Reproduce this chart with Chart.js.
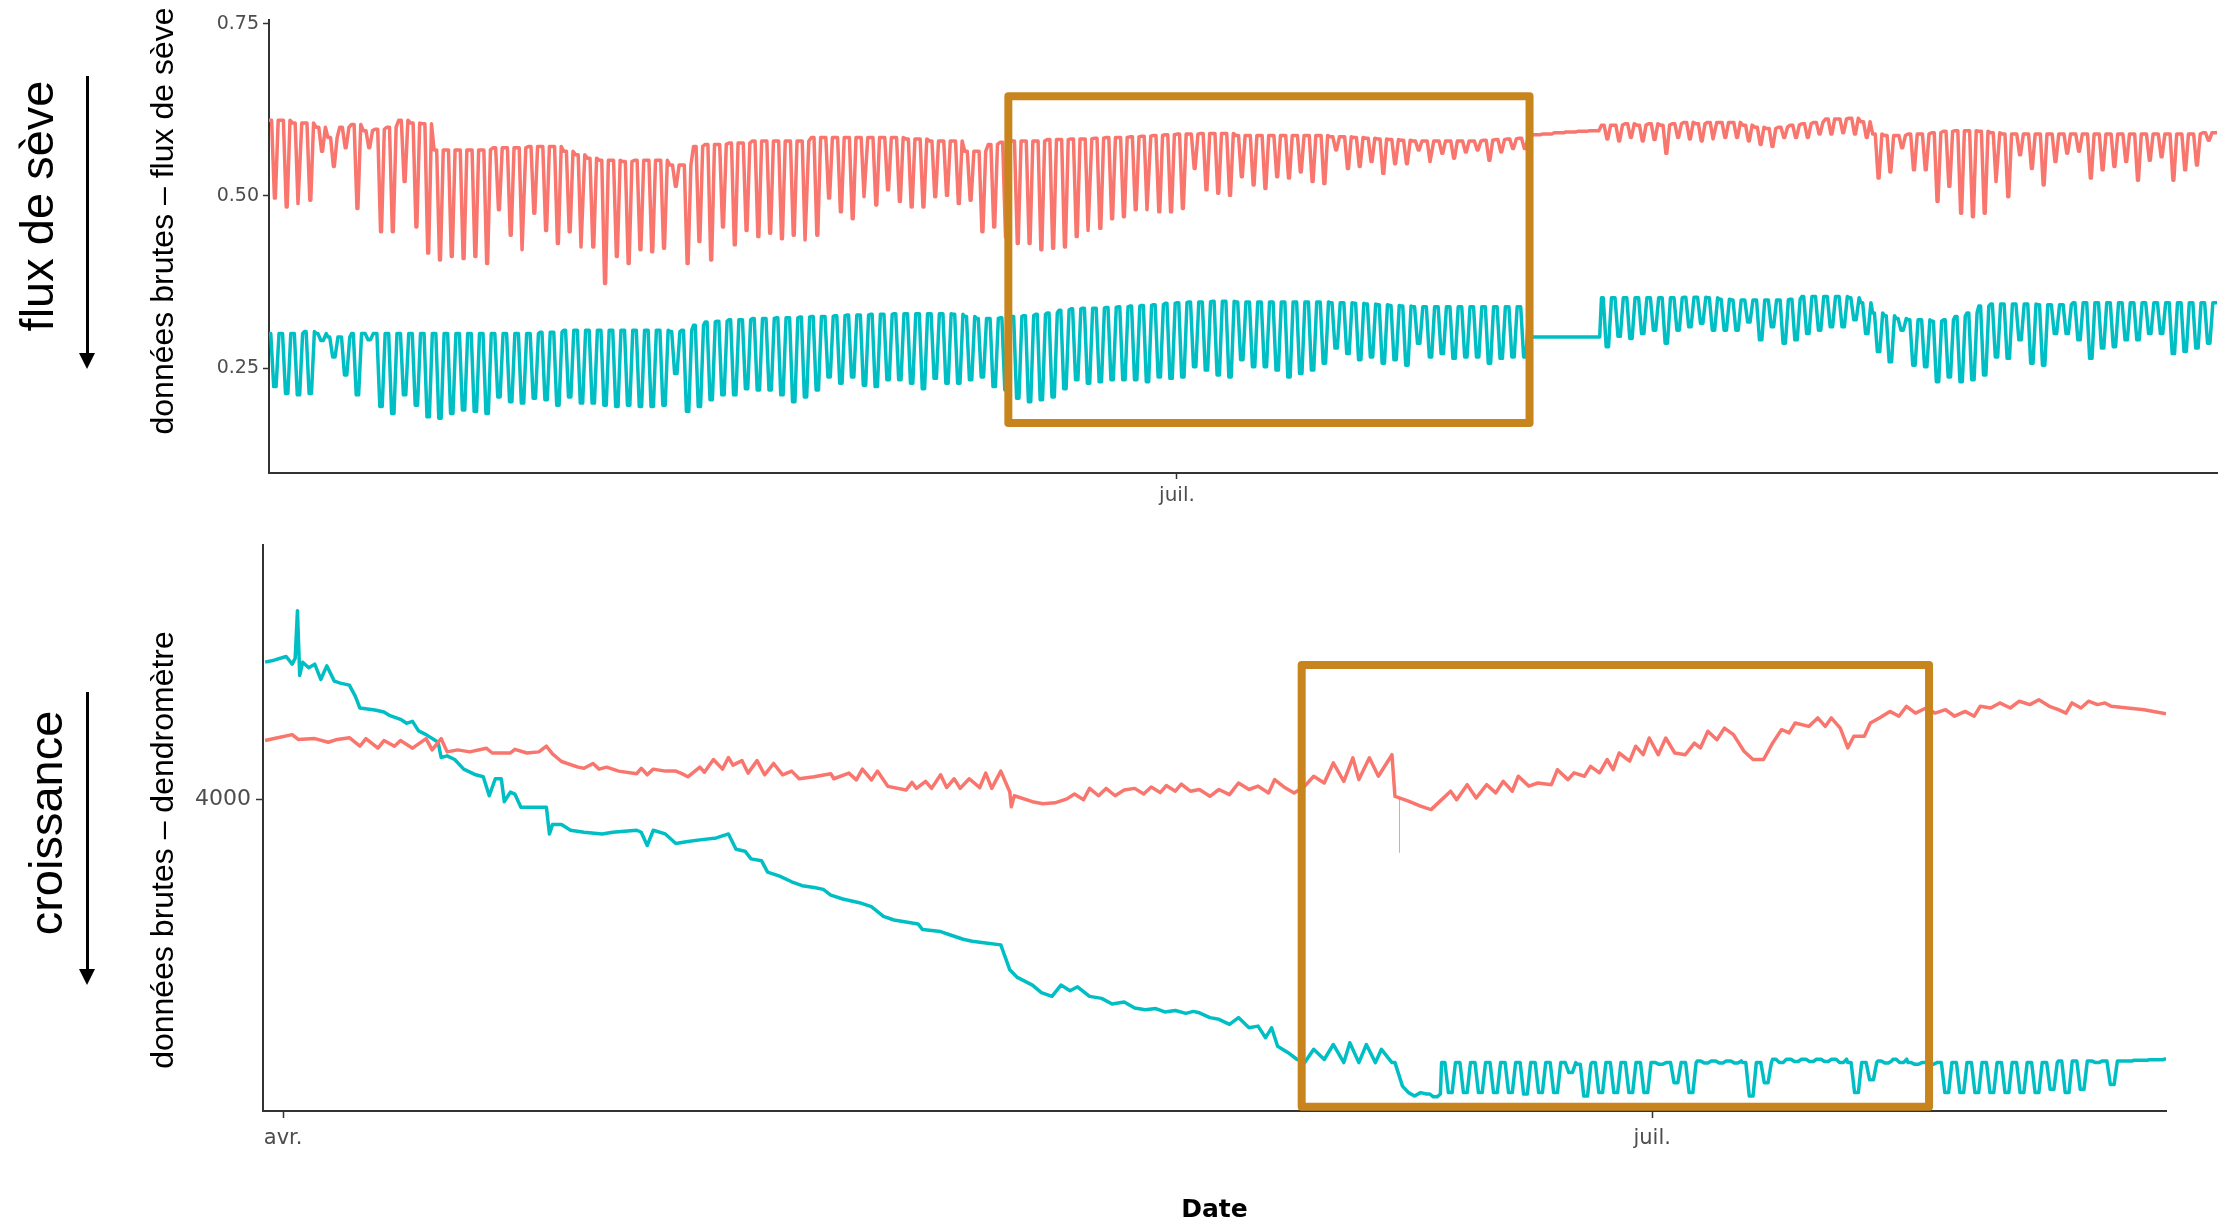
<!DOCTYPE html>
<html>
<head>
<meta charset="utf-8">
<script src="https://cdn.jsdelivr.net/npm/chart.js@4.4.1/dist/chart.umd.min.js"></script>
<style>
  body { margin: 0; background: #fff; width: 2220px; height: 1226px; overflow: hidden; position: relative; font-family: "Liberation Sans", Arial, sans-serif; }
  #sapChart { position: absolute; left: 0; top: 0; }
  #dendroChart { position: absolute; left: 0; top: 520px; }
  .vlab { position: absolute; white-space: nowrap; line-height: 1; color: #000; transform: translate(-50%, -50%) rotate(-90deg); }
  .big { font-size: 47px; }
  .small { font-size: 32px; }
  .arrow { position: absolute; width: 3px; background: #000; }
  .arrow::after { content: ""; position: absolute; left: -7px; top: 100%; border-left: 8.5px solid transparent; border-right: 8.5px solid transparent; border-top: 16px solid #000; }
</style>
</head>
<body>
<canvas id="sapChart" width="2220" height="520"></canvas>
<canvas id="dendroChart" width="2220" height="706"></canvas>

<div class="vlab big" style="left:36px;top:206px">flux de sève</div>
<div class="arrow" style="left:86px;top:76px;height:277px"></div>
<div class="vlab small" style="left:162px;top:221px">données brutes – flux de sève</div>

<div class="vlab big" style="left:45px;top:823px">croissance</div>
<div class="arrow" style="left:86px;top:692px;height:277px"></div>
<div class="vlab small" style="left:162px;top:850px">données brutes – dendromètre</div>

<script>
// ---- top panel: sap flow, one high/low pair per day (day of year, 0 = 1 Jan)
const sapStartDay = 104;
const sapRange = [104, 269.2];
const sapYRange = [0.0974, 0.7558];
const sapYTicks = [0.25, 0.50, 0.75];
const sapXTicks = [181];
const sapXLabels = ['juil.'];

const sapRedHi = [
  0.610,0.610,0.606,0.606,0.600,0.585,0.600,0.604,0.595,0.597,
  0.600,0.610,0.606,0.605,0.567,0.567,0.567,0.567,0.567,0.570,
  0.570,0.570,0.572,0.572,0.572,0.565,0.560,0.555,0.552,0.552,
  0.550,0.552,0.552,0.552,0.545,0.545,0.572,0.575,0.575,0.577,
  0.577,0.580,0.580,0.580,0.580,0.580,0.585,0.585,0.585,0.585,
  0.585,0.585,0.585,0.585,0.583,0.583,0.580,0.580,0.580,0.565,
  0.565,0.575,0.578,0.580,0.580,0.580,0.582,0.582,0.583,0.583,
  0.584,0.585,0.585,0.586,0.587,0.588,0.589,0.590,0.590,0.591,
  0.591,0.591,0.588,0.588,0.588,0.588,0.588,0.588,0.588,0.588,
  0.586,0.586,0.585,0.584,0.583,0.582,0.581,0.580,0.580,0.580,
  0.580,0.580,0.580,0.581,0.582,0.583,0.584,0.589,0.590,0.592,
  0.593,0.594,0.595,0.603,0.603,0.605,0.603,0.605,0.603,0.605,
  0.607,0.605,0.607,0.607,0.607,0.603,0.600,0.598,0.600,0.603,
  0.605,0.607,0.612,0.612,0.613,0.608,0.590,0.588,0.588,0.590,
  0.590,0.592,0.594,0.595,0.595,0.594,0.592,0.590,0.590,0.590,
  0.590,0.590,0.590,0.590,0.590,0.590,0.590,0.590,0.590,0.590,
  0.590,0.590,0.590,0.590,0.592
];
const sapRedLo = [
  0.497,0.484,0.489,0.494,0.565,0.543,0.570,0.482,0.570,0.448,
  0.448,0.521,0.455,0.417,0.407,0.412,0.409,0.412,0.402,0.480,
  0.443,0.422,0.475,0.450,0.431,0.448,0.426,0.426,0.373,0.412,
  0.402,0.422,0.419,0.424,0.514,0.402,0.434,0.407,0.455,0.429,
  0.450,0.441,0.446,0.438,0.443,0.436,0.443,0.497,0.477,0.467,
  0.499,0.487,0.509,0.492,0.484,0.484,0.499,0.501,0.489,0.494,
  0.448,0.455,0.440,0.431,0.431,0.422,0.424,0.426,0.441,0.450,
  0.453,0.467,0.470,0.480,0.480,0.477,0.477,0.482,0.540,0.509,
  0.504,0.501,0.528,0.516,0.511,0.528,0.526,0.535,0.521,0.518,
  0.567,0.540,0.543,0.550,0.533,0.547,0.547,0.567,0.550,0.562,
  0.555,0.564,0.567,0.552,0.564,0.569,0.569,0.589,0.590,0.592,
  0.593,0.594,0.595,0.583,0.580,0.585,0.580,0.582,0.562,0.585,
  0.583,0.580,0.583,0.585,0.585,0.580,0.575,0.572,0.585,0.585,
  0.585,0.590,0.590,0.592,0.590,0.585,0.526,0.535,0.570,0.538,
  0.538,0.492,0.514,0.475,0.470,0.475,0.521,0.499,0.560,0.540,
  0.516,0.550,0.562,0.565,0.526,0.538,0.543,0.550,0.523,0.552,
  0.557,0.523,0.538,0.545,0.581
];
const sapCyanHi = [
  0.300,0.300,0.300,0.303,0.300,0.295,0.295,0.300,0.300,0.300,
  0.300,0.300,0.300,0.300,0.300,0.300,0.300,0.300,0.300,0.300,
  0.300,0.300,0.300,0.302,0.302,0.305,0.305,0.305,0.305,0.305,
  0.305,0.305,0.305,0.305,0.303,0.305,0.312,0.317,0.318,0.320,
  0.320,0.322,0.322,0.323,0.323,0.324,0.325,0.325,0.326,0.327,
  0.327,0.328,0.328,0.329,0.329,0.329,0.329,0.329,0.328,0.325,
  0.322,0.322,0.323,0.325,0.326,0.328,0.330,0.334,0.336,0.337,
  0.337,0.338,0.339,0.340,0.341,0.342,0.344,0.345,0.346,0.346,
  0.347,0.347,0.346,0.346,0.346,0.346,0.346,0.346,0.346,0.346,
  0.345,0.345,0.344,0.343,0.342,0.341,0.340,0.339,0.339,0.339,
  0.339,0.339,0.339,0.339,0.339,0.339,0.339,0.295,0.295,0.295,
  0.295,0.295,0.295,0.352,0.352,0.352,0.352,0.352,0.352,0.352,
  0.353,0.353,0.352,0.350,0.349,0.349,0.349,0.349,0.349,0.350,
  0.354,0.354,0.354,0.354,0.352,0.345,0.330,0.326,0.322,0.320,
  0.320,0.318,0.320,0.325,0.330,0.340,0.343,0.343,0.343,0.343,
  0.342,0.342,0.342,0.345,0.345,0.345,0.345,0.345,0.345,0.345,
  0.345,0.345,0.345,0.345,0.345
];
const sapCyanLo = [
  0.223,0.213,0.211,0.213,0.290,0.266,0.240,0.211,0.291,0.194,
  0.184,0.211,0.196,0.179,0.177,0.184,0.189,0.187,0.184,0.208,
  0.201,0.199,0.206,0.204,0.196,0.208,0.199,0.199,0.196,0.194,
  0.196,0.194,0.194,0.196,0.242,0.187,0.194,0.204,0.211,0.211,
  0.220,0.218,0.218,0.211,0.201,0.208,0.218,0.237,0.228,0.237,
  0.225,0.223,0.233,0.233,0.228,0.220,0.235,0.228,0.228,0.233,
  0.237,0.223,0.218,0.206,0.201,0.204,0.208,0.220,0.233,0.228,
  0.230,0.233,0.233,0.233,0.230,0.237,0.235,0.237,0.252,0.247,
  0.240,0.237,0.262,0.252,0.252,0.247,0.237,0.242,0.247,0.257,
  0.279,0.271,0.262,0.266,0.257,0.262,0.254,0.286,0.266,0.271,
  0.264,0.266,0.266,0.257,0.264,0.266,0.266,0.295,0.295,0.295,
  0.295,0.295,0.295,0.281,0.296,0.293,0.300,0.305,0.286,0.305,
  0.310,0.315,0.305,0.305,0.305,0.317,0.291,0.310,0.286,0.291,
  0.300,0.305,0.310,0.310,0.320,0.300,0.274,0.259,0.305,0.254,
  0.252,0.230,0.237,0.230,0.233,0.240,0.266,0.264,0.291,0.257,
  0.254,0.300,0.300,0.291,0.264,0.279,0.281,0.291,0.291,0.300,
  0.300,0.271,0.274,0.279,0.286
];
const sapBoxDays = [166.7, 210.9];
const sapBoxVals = [0.170, 0.645];

// ---- bottom panel: dendrometer raw readings (day, value)
const dendroRange = [88.66, 215.15];
const dendroYRange = [2900, 4900];
const dendroYTicks = [4000];
const dendroXTicks = [90, 181];
const dendroXLabels = ['avr.', 'juil.'];

const dendroRedDays = [
  88.8,89.4,90.6,91.0,92.1,93.0,93.6,94.4,95.1,95.5,96.3,96.7,97.4,97.8,98.6,99.5,99.9,100.5,100.9,101.6,
  102.4,103.5,103.9,105.1,105.4,106.2,107.0,107.5,107.9,108.5,109.6,110.0,110.6,111.0,111.5,112.3,113.5,113.8,114.2,114.6,
  115.4,116.1,116.5,116.9,117.7,118.0,118.6,119.2,119.6,119.9,120.5,120.9,121.5,122.0,122.6,123.2,123.8,124.3,125.3,126.4,
  126.6,127.6,128.1,128.5,129.1,129.5,130.2,131.4,131.8,132.1,132.7,133.1,133.7,134.1,134.6,135.0,135.6,136.3,136.7,137.1,
  137.7,138.3,138.4,138.6,139.8,140.5,141.3,142.1,142.6,143.2,143.6,144.2,144.7,145.3,145.9,146.6,147.2,147.7,148.3,148.7,
  149.3,149.7,150.3,150.9,151.6,152.2,152.9,153.5,154.2,154.8,155.5,155.9,156.6,157.2,157.9,158.5,159.2,159.8,160.5,161.1,
  161.5,162.2,162.8,163.7,163.9,164.8,165.6,166.3,166.9,167.6,168.0,168.7,169.3,170.0,170.6,171.1,171.7,172.1,172.8,173.4,
  174.3,174.7,175.4,175.8,176.5,176.9,177.5,178.0,178.4,178.8,179.5,179.9,180.4,180.8,181.4,181.9,182.5,183.2,183.8,184.2,
  184.7,185.3,185.8,186.4,187.1,187.7,188.4,189.0,189.6,190.1,190.5,191.4,192.0,192.5,192.9,193.5,194.0,194.4,195.1,195.5,
  196.1,196.8,197.4,197.9,198.5,199.2,199.8,200.5,201.1,201.8,202.4,202.8,203.5,204.1,204.8,205.4,206.1,206.7,207.4,208.0,
  208.5,208.9,209.5,210.0,210.6,211.1,211.5,213.7,215.15
];
const dendroRedVals = [
  4209,4216,4230,4213,4216,4203,4213,4219,4189,4216,4182,4209,4189,4209,4182,4216,4176,4216,4169,4176,
  4169,4182,4165,4165,4178,4165,4169,4189,4162,4135,4115,4111,4128,4108,4115,4101,4092,4111,4088,4108,
  4101,4101,4092,4081,4115,4097,4142,4108,4149,4122,4138,4094,4138,4088,4128,4088,4101,4074,4081,4092,
  4074,4094,4070,4108,4070,4101,4047,4034,4061,4040,4065,4040,4088,4043,4074,4040,4074,4043,4094,4040,
  4101,4027,3975,4014,3993,3986,3989,4003,4020,4000,4040,4014,4040,4014,4034,4040,4020,4045,4025,4050,
  4030,4055,4030,4036,4012,4036,4018,4059,4036,4048,4024,4071,4042,4024,4048,4083,4059,4130,4065,4148,
  4071,4148,4083,4159,4012,3995,3977,3965,3995,4030,4000,4053,4006,4053,4024,4065,4030,4083,4048,4059,
  4053,4106,4071,4095,4083,4118,4095,4142,4106,4165,4136,4189,4159,4218,4159,4218,4165,4159,4200,4183,
  4242,4212,4253,4230,4171,4142,4142,4200,4248,4236,4271,4259,4289,4259,4289,4253,4183,4224,4224,4271,
  4289,4312,4295,4330,4306,4324,4306,4318,4295,4312,4295,4330,4324,4342,4324,4348,4336,4353,4330,4318,
  4306,4342,4324,4348,4336,4342,4330,4318,4304
];
const dendroSpikeDays = [164.2, 164.2];
const dendroSpikeVals = [4010, 3812];

const dendroCyanDays = [
  88.8,89.4,90.2,90.6,90.8,90.95,91.1,91.3,91.7,92.1,92.5,92.9,93.4,93.8,94.4,94.8,95.1,96.1,96.7,97.1,
  97.8,98.2,98.6,99.0,99.5,100.3,100.5,100.9,101.4,102.0,102.8,103.3,103.7,104.1,104.5,104.7,105.1,105.4,105.8,107.0,
  107.5,107.7,107.9,108.5,109.1,110.0,111.2,111.9,113.5,113.8,114.2,114.6,115.4,116.1,116.9,117.7,118.8,119.6,120.1,120.7,
  121.1,121.8,122.2,123.0,123.8,124.5,125.3,125.9,126.4,127.2,128.3,129.1,129.9,130.6,131.4,132.2,132.5,133.7,134.4,135.2,
  135.8,136.7,137.7,138.3,138.8,139.8,140.4,141.1,141.7,142.3,142.8,143.6,144.4,145.1,145.9,146.6,147.3,148.0,148.6,149.3,
  150.0,150.5,150.9,151.6,152.2,152.9,153.5,154.2,154.8,155.3,155.7,156.1,156.8,157.4,157.9,158.5,159.2,159.8,160.5,160.9,
  161.5,162.0,162.6,163.0,163.7,163.9,164.4,164.8,165.2,165.6
];
const dendroCyanVals = [
  4486,4493,4506,4479,4500,4668,4439,4486,4466,4479,4425,4473,4419,4412,4405,4365,4324,4317,4310,4297,
  4284,4270,4277,4243,4230,4203,4149,4155,4142,4108,4088,4081,4014,4074,4074,3993,4027,4020,3973,3973,
  3973,3879,3912,3912,3892,3885,3879,3885,3892,3885,3838,3892,3879,3845,3852,3858,3865,3879,3825,3818,
  3791,3784,3744,3730,3710,3696,3690,3683,3663,3649,3636,3622,3588,3575,3568,3561,3541,3534,3521,3507,
  3500,3494,3487,3399,3372,3345,3318,3305,3345,3325,3339,3305,3298,3278,3285,3264,3258,3262,3250,3255,
  3245,3252,3247,3230,3224,3206,3230,3194,3200,3159,3194,3129,3106,3082,3071,3118,3082,3135,3071,3141,
  3071,3135,3071,3118,3071,3071,2988,2965,2953,2965
];
// daily swings once the curve reaches the bottom (days 166..214)
const dendroCyanWaveStart = 166;
const dendroCyanWaveHi = [
  2960,3071,3071,3071,3071,3071,3071,3071,3071,3071,
  3065,3071,3071,3071,3071,3071,3071,3071,3077,3077,
  3077,3071,3071,3083,3083,3083,3083,3083,3071,3071,
  3077,3083,3071,3071,3071,3071,3071,3071,3071,3071,
  3071,3071,3077,3077,3077,3077,3077,3079,3081
];
const dendroCyanWaveLo = [
  2950,2965,2965,2965,2965,2965,2960,2965,2965,3036,
  2953,2965,2965,2965,2965,3065,3000,2965,3070,3070,
  3070,2953,3000,3071,3075,3075,3075,3071,2965,3010,
  3070,3071,3065,3065,2965,2965,2965,2965,2965,2965,
  2965,2977,2965,2977,3071,2994,3077,3079,3081
];
const dendroCyanEnd = [215.15, 3085];
const dendroBoxDays = [157.7, 199.4];
const dendroBoxVals = [2915, 4476];

const RED = '#F8766D';
const CYAN = '#00BFC4';
const BOX = '#C8851E';
const AXIS = '#333333';
const TICK_TXT = '#4d4d4d';

// one point per step of the daily shape ('h' = high, 'l' = low)
function dailyWave(start, hi, lo, shape) {
  const pts = [];
  hi.forEach((h, i) => {
    shape.forEach(([f, k]) => pts.push({ x: start + i + f, y: k === 'h' ? h : lo[i] }));
  });
  return pts;
}
function pairs(days, vals) {
  return days.map((d, i) => ({ x: d, y: vals[i] }));
}

const sapRed = dailyWave(sapStartDay, sapRedHi, sapRedLo, [[0, 'h'], [0.22, 'h'], [0.46, 'l'], [0.54, 'l'], [0.78, 'h']]);
sapRed.push({ x: sapRange[1], y: sapRedHi[sapRedHi.length - 1] });
const sapCyan = dailyWave(sapStartDay, sapCyanHi, sapCyanLo, [[0, 'h'], [0.15, 'h'], [0.4, 'l'], [0.6, 'l'], [0.85, 'h']]);
sapCyan.push({ x: sapRange[1], y: sapCyanHi[sapCyanHi.length - 1] });

const dendroRed = pairs(dendroRedDays, dendroRedVals);
const dendroCyan = pairs(dendroCyanDays, dendroCyanVals)
  .concat(dailyWave(dendroCyanWaveStart, dendroCyanWaveHi, dendroCyanWaveLo, [[0, 'h'], [0.22, 'h'], [0.45, 'l'], [0.7, 'l'], [0.92, 'h']]))
  .concat([{ x: dendroCyanEnd[0], y: dendroCyanEnd[1] }]);

// orange rectangle placed in data units
const focusBox = {
  id: 'focusBox',
  afterDatasetsDraw(chart, args, opts) {
    const { ctx, scales: { x, y } } = chart;
    const x0 = x.getPixelForValue(opts.days[0]);
    const x1 = x.getPixelForValue(opts.days[1]);
    const y0 = y.getPixelForValue(opts.vals[1]);
    const y1 = y.getPixelForValue(opts.vals[0]);
    ctx.save();
    ctx.strokeStyle = BOX;
    ctx.lineWidth = 8;
    ctx.lineJoin = 'round';
    ctx.strokeRect(x0, y0, x1 - x0, y1 - y0);
    ctx.restore();
  }
};

function line(data, color, width) {
  return { data, borderColor: color, borderWidth: width, pointRadius: 0, tension: 0, fill: false, borderJoinStyle: 'round' };
}

new Chart(document.getElementById('sapChart'), {
  type: 'line',
  data: { datasets: [line(sapRed, RED, 3.5), line(sapCyan, CYAN, 3.5)] },
  options: {
    responsive: false,
    animation: false,
    events: [],
    layout: { padding: { top: 20, right: 3, left: 0, bottom: 0 } },
    plugins: { legend: { display: false }, tooltip: { enabled: false }, focusBox: { days: sapBoxDays, vals: sapBoxVals } },
    scales: {
      x: {
        type: 'linear', min: sapRange[0], max: sapRange[1],
        afterBuildTicks: s => { s.ticks = sapXTicks.map(v => ({ value: v })); },
        afterFit: s => { s.height = 47; },
        ticks: { autoSkip: false, maxRotation: 0, padding: 5, color: TICK_TXT, font: { family: 'DejaVu Sans', size: 20 },
                 callback: v => sapXLabels[sapXTicks.indexOf(v)] },
        grid: { drawOnChartArea: false, drawTicks: true, tickLength: 6, tickColor: AXIS, tickWidth: 1.5 },
        border: { display: true, color: AXIS, width: 2 }
      },
      y: {
        type: 'linear', min: sapYRange[0], max: sapYRange[1],
        afterBuildTicks: s => { s.ticks = sapYTicks.map(v => ({ value: v })); },
        afterFit: s => { s.width = 269; },
        ticks: { padding: 4, color: TICK_TXT, font: { family: 'DejaVu Sans', size: 19 }, callback: v => v.toFixed(2) },
        grid: { drawOnChartArea: false, drawTicks: true, tickLength: 6, tickColor: AXIS, tickWidth: 1.5 },
        border: { display: true, color: AXIS, width: 2 }
      }
    }
  },
  plugins: [focusBox]
});

new Chart(document.getElementById('dendroChart'), {
  type: 'line',
  data: {
    datasets: [
      line(dendroRed, RED, 3.5),
      line(pairs(dendroSpikeDays, dendroSpikeVals), 'rgba(248,118,109,0.35)', 1),
      line(dendroCyan, CYAN, 3.5)
    ]
  },
  options: {
    responsive: false,
    animation: false,
    events: [],
    layout: { padding: { top: 25, right: 54, left: 0, bottom: 0 } },
    plugins: { legend: { display: false }, tooltip: { enabled: false }, focusBox: { days: dendroBoxDays, vals: dendroBoxVals } },
    scales: {
      x: {
        type: 'linear', min: dendroRange[0], max: dendroRange[1],
        afterBuildTicks: s => { s.ticks = dendroXTicks.map(v => ({ value: v })); },
        afterFit: s => { s.height = 115; },
        ticks: { autoSkip: false, maxRotation: 0, padding: 8, color: TICK_TXT, font: { family: 'DejaVu Sans', size: 21 },
                 callback: v => dendroXLabels[dendroXTicks.indexOf(v)] },
        grid: { drawOnChartArea: false, drawTicks: true, tickLength: 7, tickColor: AXIS, tickWidth: 1.5 },
        border: { display: true, color: AXIS, width: 2 },
        title: { display: true, text: 'Date', color: '#000', font: { family: 'DejaVu Sans', size: 25, weight: 'bold' }, padding: { top: 0, bottom: 1 } }
      },
      y: {
        type: 'linear', min: dendroYRange[0], max: dendroYRange[1],
        afterBuildTicks: s => { s.ticks = dendroYTicks.map(v => ({ value: v })); },
        afterFit: s => { s.width = 263; },
        ticks: { padding: 5, color: TICK_TXT, font: { family: 'DejaVu Sans', size: 22 }, callback: v => String(v) },
        grid: { drawOnChartArea: false, drawTicks: true, tickLength: 7, tickColor: AXIS, tickWidth: 1.5 },
        border: { display: true, color: AXIS, width: 2 }
      }
    }
  },
  plugins: [focusBox]
});
</script>
</body>
</html>
